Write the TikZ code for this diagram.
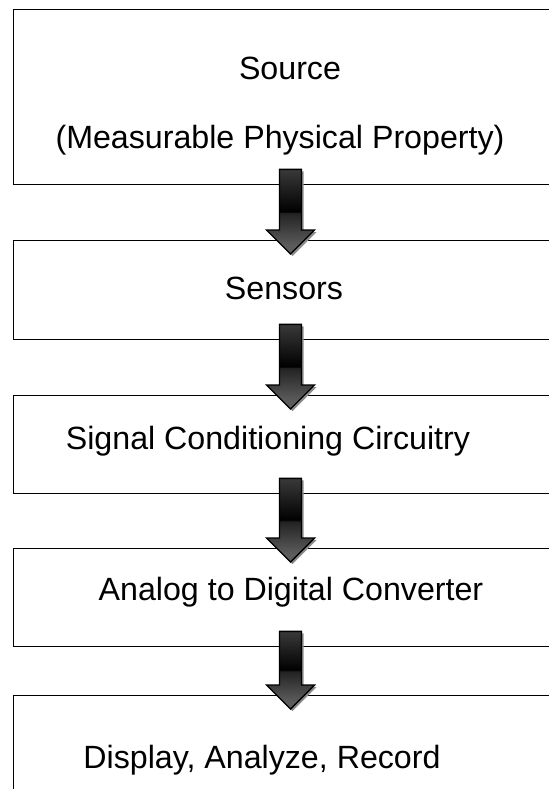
\documentclass[tikz,border=0pt]{standalone}
\usepackage{fontspec}
\setmainfont{Liberation Sans}
\usetikzlibrary{positioning,calc}

\pgfdeclareverticalshading{arrowshade}{100bp}{%
  color(0bp)=(black!60); color(30bp)=(black!64); color(48bp)=(black!85);
  color(49.5bp)=(black!88); color(50bp)=(black); color(100bp)=(black!55)}

% arrow between two boxes: shadow first, then the shaded body
\newcommand{\flowarrow}[2]{%
  \coordinate (s) at ($(#1.south -| ax)+(0,-16)$);
  \coordinate (h) at ($(#2.north -| ax)+(0,-10)$);
  \coordinate (t) at ($(#2.north -| ax)+(0,14)$);
  \foreach \dx/\dy/\sty in {2/2/shadowpart, 0/0/arrowbody}
    \draw[\sty] ($(s)+(-11+\dx,\dy)$) -- ($(s)+(11+\dx,\dy)$)
      -- ($(h)+(11+\dx,\dy)$) -- ($(h)+(24+\dx,\dy)$)
      -- ($(t)+(\dx,\dy)$) -- ($(h)+(-24+\dx,\dy)$)
      -- ($(h)+(-11+\dx,\dy)$) -- cycle;
}

\begin{document}
\begin{tikzpicture}[x=1bp, y=-1bp,
    box/.style={rectangle, draw, line width=1.4bp, inner sep=0pt,
      anchor=north west, minimum width=600bp},
    txt/.style={font=\fontsize{32.3}{38}\selectfont, inner sep=0pt},
    arrowbody/.style={draw=black, line width=1.4bp, line join=miter,
      shading=arrowshade},
    shadowpart/.style={fill=black!45, draw=none}
]
\useasboundingbox (0,0) rectangle (549,789);
\clip (0,0) rectangle (549,789);
\fill[white] (0,0) rectangle (549,789);

\coordinate (ax) at (290.5,0);

% Boxes
\node[box, minimum height=175bp] (source) at (12.5,9) {};
\node[box, minimum height=99bp] (sensors) at (12.5,240) {};
\node[box, minimum height=98bp] (signal) at (12.5,395) {};
\node[box, minimum height=98bp] (adc) at (12.5,548) {};
\node[box, minimum height=140bp] (display) at (12.5,695) {};

% Texts
\node[txt] (sourcetxt) at (290,68) {Source};
\node[txt] (propertytxt) at (280,140) {(Measurable Physical Property)};
\node[txt] (sensorstxt) at (284,288.5) {Sensors};
\node[txt] (signaltxt) at (268,441) {Signal Conditioning Circuitry};
\node[txt] (adctxt) at (291,592) {Analog to Digital Converter};
\node[txt] (displaytxt) at (262,760) {Display, Analyze, Record};

% Arrows
\flowarrow{source}{sensors}
\flowarrow{sensors}{signal}
\flowarrow{signal}{adc}
\flowarrow{adc}{display}

\end{tikzpicture}
\end{document}
